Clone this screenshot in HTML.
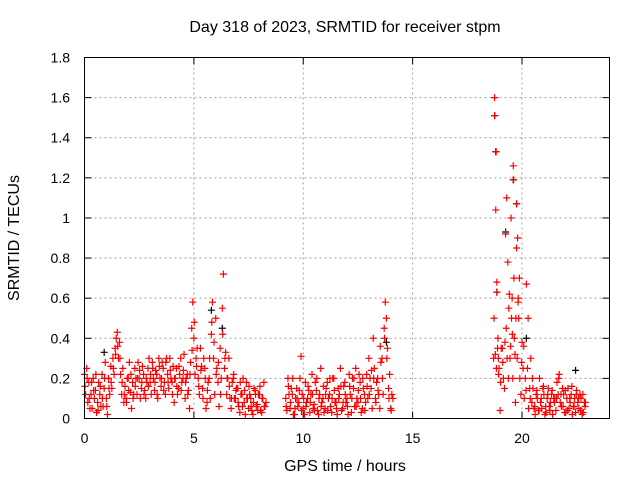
<!DOCTYPE html>
<html><head><meta charset="utf-8"><style>
html,body{margin:0;padding:0;background:#fff;}
svg{display:block;font-family:"Liberation Sans",Arial,sans-serif;}
</style></head><body>
<svg id="chart" width="640" height="480" viewBox="0 0 640 480" xmlns="http://www.w3.org/2000/svg">
<rect width="640" height="480" fill="#fff"/>
<text x="345" y="32" font-size="16" text-anchor="middle">Day 318 of 2023, SRMTID for receiver stpm</text>
<text x="345" y="471" font-size="16" text-anchor="middle">GPS time / hours</text>
<text transform="translate(19,238) rotate(-90)" font-size="16" text-anchor="middle">SRMTID / TECUs</text>
<g id="grid"></g>
<g id="axes"></g>
<g id="black-series"></g>
<g id="red-series"></g>
<rect x="84.5" y="57.5" width="525" height="361" fill="none" stroke="#000" stroke-width="1"/>
</svg>
<script>
const xTicks = [0, 5, 10, 15, 20];
const xTickLabels = ["0", "5", "10", "15", "20"];
const yTicks = [0, 0.2, 0.4, 0.6, 0.8, 1, 1.2, 1.4, 1.6, 1.8];
const yTickLabels = ["0", "0.2", "0.4", "0.6", "0.8", "1", "1.2", "1.4", "1.6", "1.8"];
const redTimes = [0.0,0.05,0.1,0.15,0.2,0.25,0.3,0.35,0.4,0.45,0.5,0.55,0.6,0.65,0.7,0.75,0.8,0.85,0.9,0.95,1.0,1.05,1.1,1.15,1.2,1.25,1.3,1.35,1.4,1.45,1.5,1.55,1.6,1.65,1.7,1.75,1.8,1.85,1.9,1.95,2.0,2.05,2.1,2.15,2.2,2.25,2.3,2.35,2.4,2.45,2.5,2.55,2.6,2.65,2.7,2.75,2.8,2.85,2.9,2.95,3.0,3.05,3.1,3.15,3.2,3.25,3.3,3.35,3.4,3.45,3.5,3.55,3.6,3.65,3.7,3.75,3.8,3.85,3.9,3.95,4.0,4.05,4.1,4.15,4.2,4.25,4.3,4.35,4.4,4.45,4.5,4.55,4.6,4.65,4.7,4.75,4.8,4.85,4.9,4.95,5.0,5.05,5.1,5.15,5.2,5.25,5.3,5.35,5.4,5.45,5.5,5.55,5.6,5.65,5.7,5.75,5.8,5.85,5.9,5.95,6.0,6.05,6.1,6.15,6.2,6.25,6.3,6.35,6.4,6.45,6.5,6.55,6.6,6.65,6.7,6.75,6.8,6.85,6.9,6.95,7.0,7.05,7.1,7.15,7.2,7.25,7.3,7.35,7.4,7.45,7.5,7.55,7.6,7.65,7.7,7.75,7.8,7.85,7.9,7.95,8.0,8.05,8.1,8.15,8.2,8.25,8.3,
9.2,9.25,9.3,9.35,9.4,9.45,9.5,9.55,9.6,9.65,9.7,9.75,9.8,9.85,9.9,9.95,10.0,10.05,10.1,10.15,10.2,10.25,10.3,10.35,10.4,10.45,10.5,10.55,10.6,10.65,10.7,10.75,10.8,10.85,10.9,10.95,11.0,11.05,11.1,11.15,11.2,11.25,11.3,11.35,11.4,11.45,11.5,11.55,11.6,11.65,11.7,11.75,11.8,11.85,11.9,11.95,12.0,12.05,12.1,12.15,12.2,12.25,12.3,12.35,12.4,12.45,12.5,12.55,12.6,12.65,12.7,12.75,12.8,12.85,12.9,12.95,13.0,13.05,13.1,13.15,13.2,13.25,13.3,13.35,13.4,13.45,13.5,13.55,13.6,13.65,13.7,13.75,13.8,13.85,13.9,13.95,14.0,14.05,14.1,
18.7,18.72,18.75,18.78,18.8,18.83,18.85,18.88,18.9,18.93,18.95,19.0,19.05,19.1,19.15,19.2,19.25,19.3,19.32,19.35,19.4,19.42,19.45,19.5,19.52,19.55,19.58,19.6,19.63,19.65,19.7,19.72,19.75,19.78,19.8,19.83,19.85,19.9,19.95,20.0,20.05,20.1,20.15,20.2,20.25,20.3,20.35,20.4,20.45,20.5,20.55,20.6,20.65,20.7,20.75,20.8,20.85,20.9,20.95,21.0,21.05,21.1,21.15,21.2,21.25,21.3,21.35,21.4,21.45,21.5,21.55,21.6,21.65,21.7,21.75,21.8,21.85,21.9,21.95,22.0,22.05,22.1,22.15,22.2,22.25,22.3,22.35,22.4,22.45,22.5,22.55,22.6,22.65,22.7,22.75,22.8,22.85,22.9];
const redValues = [0.22,0.12,0.25,0.08,0.18,0.05,0.12,0.05,0.2,0.1,0.14,0.03,0.08,0.18,0.12,0.06,0.22,0.06,0.15,0.28,0.1,0.02,0.2,0.12,0.26,0.15,0.3,0.22,0.35,0.4,0.43,0.3,0.38,0.22,0.12,0.25,0.08,0.16,0.1,0.2,0.2,0.28,0.13,0.05,0.18,0.12,0.25,0.2,0.12,0.28,0.2,0.1,0.15,0.26,0.22,0.14,0.1,0.18,0.25,0.3,0.18,0.12,0.28,0.2,0.14,0.24,0.22,0.1,0.3,0.2,0.16,0.28,0.25,0.18,0.12,0.3,0.22,0.15,0.3,0.2,0.18,0.26,0.08,0.2,0.25,0.12,0.15,0.22,0.3,0.18,0.2,0.32,0.1,0.2,0.22,0.14,0.05,0.28,0.45,0.58,0.4,0.22,0.3,0.35,0.2,0.12,0.35,0.26,0.15,0.3,0.25,0.05,0.08,0.18,0.2,0.1,0.42,0.58,0.3,0.12,0.5,0.25,0.18,0.06,0.35,0.2,0.55,0.72,0.25,0.33,0.12,0.2,0.3,0.1,0.05,0.18,0.2,0.1,0.1,0.15,0.15,0.06,0.03,0.12,0.12,0.2,0.08,0.02,0.18,0.1,0.05,0.12,0.1,0.04,0.02,0.15,0.14,0.06,0.07,0.12,0.12,0.04,0.03,0.1,0.18,0.06,0.08,
0.1,0.04,0.2,0.12,0.05,0.15,0.12,0.02,0.02,0.1,0.15,0.06,0.08,0.2,0.31,0.12,0.05,0.02,0.18,0.08,0.1,0.14,0.03,0.12,0.22,0.05,0.07,0.18,0.14,0.04,0.02,0.12,0.25,0.08,0.1,0.03,0.05,0.15,0.18,0.1,0.12,0.06,0.03,0.2,0.2,0.08,0.08,0.02,0.15,0.12,0.25,0.04,0.05,0.16,0.18,0.08,0.1,0.02,0.22,0.12,0.03,0.2,0.15,0.06,0.25,0.1,0.08,0.22,0.18,0.03,0.05,0.15,0.12,0.08,0.22,0.1,0.3,0.2,0.15,0.05,0.4,0.25,0.1,0.18,0.2,0.12,0.05,0.28,0.3,0.12,0.45,0.58,0.5,0.35,0.15,0.22,0.05,0.12,0.1,
0.3,0.5,1.6,0.32,1.04,0.25,0.68,0.35,0.4,0.22,0.25,0.04,0.35,0.35,0.2,0.15,0.92,1.1,0.3,0.78,0.55,0.62,0.3,1.0,0.5,0.6,0.2,1.26,0.7,0.4,0.08,0.5,0.85,0.3,0.9,0.6,0.5,0.2,0.12,0.38,0.25,0.1,0.2,0.67,0.25,0.05,0.15,0.3,0.08,0.15,0.05,0.02,0.12,0.1,0.04,0.2,0.08,0.05,0.15,0.12,0.02,0.03,0.1,0.15,0.06,0.08,0.12,0.02,0.1,0.1,0.04,0.18,0.12,0.22,0.08,0.06,0.15,0.12,0.03,0.03,0.1,0.15,0.05,0.08,0.12,0.02,0.06,0.1,0.03,0.14,0.08,0.05,0.12,0.1,0.02,0.03,0.08,0.08];
const redTimes2 = [0.02,0.12,0.22,0.32,0.42,0.52,0.62,0.72,0.82,0.92,1.02,1.12,1.22,1.32,1.42,1.52,1.62,1.72,1.82,1.92,2.02,2.12,2.22,2.32,2.42,2.52,2.62,2.72,2.82,2.92,3.02,3.12,3.22,3.32,3.42,3.52,3.62,3.72,3.82,3.92,4.02,4.12,4.22,4.32,4.42,4.52,4.62,4.72,4.82,4.92,5.02,5.12,5.22,5.32,5.42,5.52,5.62,5.72,5.82,5.92,6.02,6.12,6.22,6.32,6.42,6.52,6.62,6.72,6.82,6.92,7.02,7.12,7.22,7.32,7.42,7.52,7.62,7.72,7.82,7.92,8.02,8.12,8.22,
9.22,9.32,9.42,9.52,9.62,9.72,9.82,9.92,10.02,10.12,10.22,10.32,10.42,10.52,10.62,10.72,10.82,10.92,11.02,11.12,11.22,11.32,11.42,11.52,11.62,11.72,11.82,11.92,12.02,12.12,12.22,12.32,12.42,12.52,12.62,12.72,12.82,12.92,13.02,13.12,13.22,13.32,13.42,13.52,13.62,13.72,13.82,13.92,14.02,
18.76,18.82,18.86,18.92,19.02,19.12,19.22,19.28,19.38,19.48,19.56,19.62,19.68,19.76,19.82,19.88,19.98,20.08,20.18,20.28,20.38,20.48,20.58,20.68,20.78,20.88,20.98,21.08,21.18,21.28,21.38,21.48,21.58,21.68,21.78,21.88,21.98,22.08,22.18,22.28,22.38,22.48,22.58,22.68,22.78,22.88];
const redValues2 = [0.16,0.2,0.1,0.18,0.14,0.22,0.04,0.16,0.1,0.2,0.06,0.15,0.18,0.25,0.32,0.36,0.3,0.18,0.12,0.08,0.14,0.22,0.1,0.16,0.2,0.24,0.18,0.12,0.2,0.16,0.22,0.25,0.18,0.12,0.26,0.2,0.14,0.28,0.18,0.24,0.12,0.2,0.16,0.26,0.14,0.24,0.18,0.12,0.22,0.34,0.48,0.26,0.16,0.24,0.1,0.2,0.14,0.3,0.48,0.38,0.22,0.28,0.12,0.42,0.3,0.2,0.16,0.1,0.22,0.14,0.08,0.18,0.06,0.14,0.1,0.16,0.06,0.08,0.12,0.04,0.16,0.1,0.06,
0.06,0.16,0.08,0.2,0.05,0.1,0.14,0.04,0.1,0.06,0.16,0.08,0.12,0.04,0.2,0.1,0.06,0.16,0.12,0.04,0.2,0.1,0.14,0.05,0.1,0.16,0.08,0.12,0.06,0.16,0.1,0.2,0.06,0.14,0.1,0.2,0.04,0.16,0.12,0.24,0.2,0.08,0.14,0.36,0.2,0.4,0.3,0.1,0.04,
1.51,1.33,0.63,0.3,0.18,0.28,0.38,0.45,0.2,0.36,0.42,1.19,0.32,1.07,0.58,0.7,0.28,0.36,0.14,0.5,0.1,0.2,0.06,0.14,0.04,0.1,0.16,0.06,0.12,0.04,0.14,0.08,0.1,0.2,0.12,0.06,0.14,0.04,0.1,0.16,0.06,0.12,0.1,0.04,0.12,0.06];
const blackTimes = [0.9,6.3,5.8,13.8,18.75,18.8,18.85,19.25,19.6,19.75,20.2,22.45];
const blackValues = [0.33,0.45,0.54,0.38,1.51,1.33,0.63,0.93,1.19,1.07,0.4,0.24];

const X0=84.5, X1=609.5, Y0=418.5, Y1=57.5, XMAX=24, YMAX=1.8;
function xs(t){return X0+(X1-X0)*t/XMAX;}
function ys(v){return Y0-(Y0-Y1)*v/YMAX;}
const NS="http://www.w3.org/2000/svg";
function mk(tag,attrs,parent){const e=document.createElementNS(NS,tag);for(const k in attrs)e.setAttribute(k,attrs[k]);parent.appendChild(e);return e;}
const grid=document.getElementById('grid'), axes=document.getElementById('axes');
xTicks.forEach((t,i)=>{
  const x=xs(t);
  if(t>0){const g=mk('line',{x1:x,y1:Y1,x2:x,y2:Y0,stroke:'#a0a0a0','stroke-dasharray':'2,3'},grid);
  
  }
  mk('line',{x1:x,y1:Y0,x2:x,y2:Y0-7,stroke:'#000'},axes);
  mk('line',{x1:x,y1:Y1,x2:x,y2:Y1+7,stroke:'#000'},axes);
  const lb=mk('text',{x:x,y:443,'font-size':14,'text-anchor':'middle'},axes);
  lb.textContent=xTickLabels[i];
  
  
});
yTicks.forEach((v,i)=>{
  const y=ys(v);
  if(v>0&&v<YMAX){const g=mk('line',{x1:X0,y1:y,x2:X1,y2:y,stroke:'#a0a0a0','stroke-dasharray':'2,3'},grid);
  
  }
  mk('line',{x1:X0,y1:y,x2:X0+7,y2:y,stroke:'#000'},axes);
  mk('line',{x1:X1,y1:y,x2:X1-7,y2:y,stroke:'#000'},axes);
  const lb=mk('text',{x:70,y:y+5,'font-size':14,'text-anchor':'end'},axes);
  lb.textContent=yTickLabels[i];
  
  
});
function plus(parent,t,v,color,name){
  const x=xs(t),y=ys(v);
  const p=mk('path',{d:`M${x-3.5},${y}H${x+3.5}M${x},${y-3.5}V${y+3.5}`,stroke:color,'stroke-width':1.2,fill:'none'},parent);
  
  
}
const bg=document.getElementById('black-series');
blackTimes.forEach((t,i)=>plus(bg,t,blackValues[i],'#000','black-point'));
const rg=document.getElementById('red-series');
redTimes.forEach((t,i)=>plus(rg,t,redValues[i],'#ff0000','red-point'));
redTimes2.forEach((t,i)=>plus(rg,t,redValues2[i],'#ff0000','red-point'));
</script>
</body></html>
